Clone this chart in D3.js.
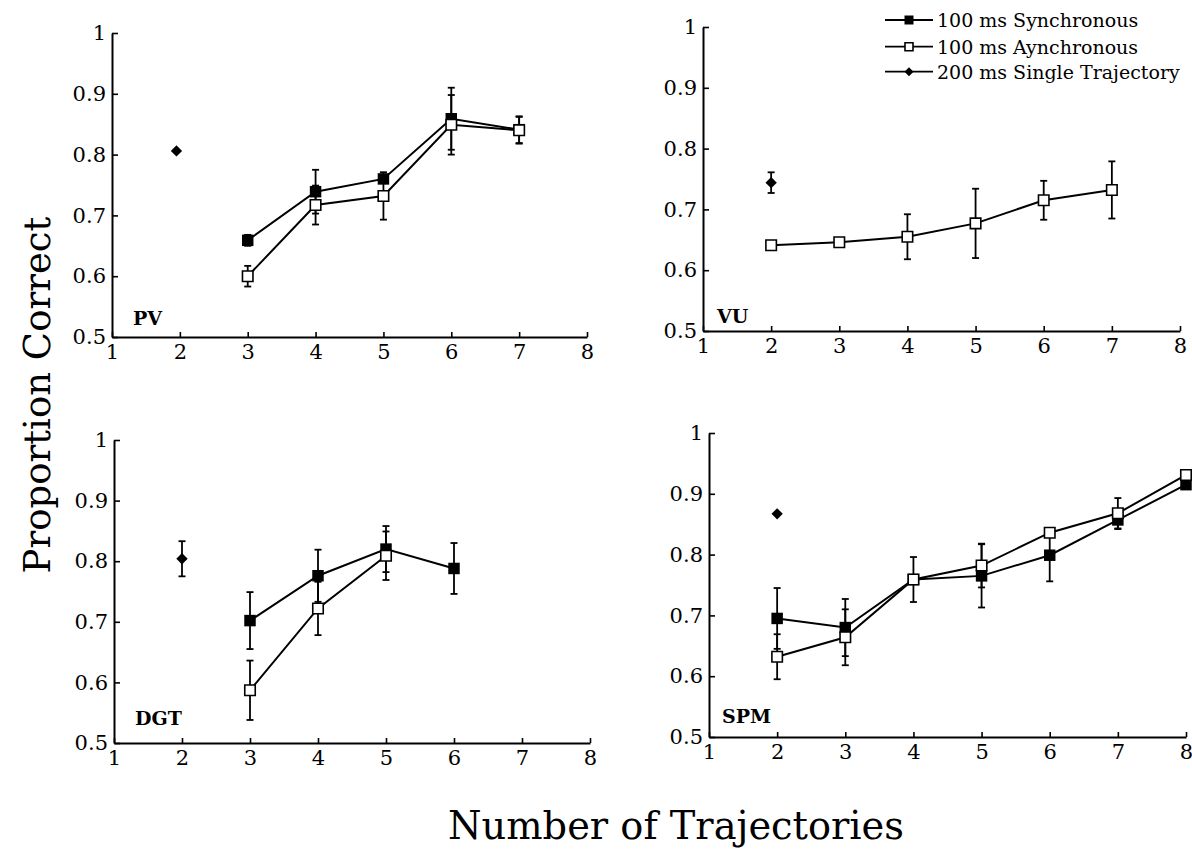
<!DOCTYPE html>
<html>
<head>
<meta charset="utf-8">
<script src="https://cdn.jsdelivr.net/npm/d3@7"></script>
<style>
  body { margin: 0; background: #fff; }
  svg { display: block; }
</style>
</head>
<body>
<svg width="1192" height="849"></svg>
<script>
// tick values shared by every panel
const xTicks = [1, 2, 3, 4, 5, 6, 7, 8];
const yTicks = [0.5, 0.6, 0.7, 0.8, 0.9, 1];

// [trajectories, proportion correct, error]
const pvSync = [[3, 0.659, 0.009], [4, 0.739, 0.036], [5, 0.760, 0.004], [6, 0.859, 0.051], [7, 0.841, 0.022]];
const pvAsync = [[3, 0.600, 0.017], [4, 0.717, 0.032], [5, 0.732, 0.039], [6, 0.849, 0.049], [7, 0.840, 0.022]];
const pvSingle = [[1.95, 0.806, 0]];

const vuSync = [];
const vuAsync = [[2, 0.641, 0], [3, 0.646, 0.005], [4, 0.655, 0.037], [5, 0.677, 0.057], [6, 0.715, 0.032], [7, 0.732, 0.047]];
const vuSingle = [[2, 0.744, 0.017]];

const dgtSync = [[3, 0.702, 0.047], [4, 0.776, 0.043], [5, 0.820, 0.038], [6, 0.788, 0.042]];
const dgtAsync = [[3, 0.587, 0.049], [4, 0.722, 0.044], [5, 0.809, 0.040]];
const dgtSingle = [[2, 0.804, 0.029]];

const spmSync = [[2, 0.695, 0.050], [3, 0.680, 0.047], [4, 0.759, 0], [5, 0.765, 0.052], [6, 0.799, 0.043], [7, 0.857, 0.015], [8, 0.915, 0]];
const spmAsync = [[2, 0.632, 0.037], [3, 0.664, 0.046], [4, 0.759, 0.037], [5, 0.782, 0.036], [6, 0.836, 0], [7, 0.868, 0.025], [8, 0.931, 0]];
const spmSingle = [[2, 0.867, 0]];

const legendLabels = ['100 ms Synchronous', '100 ms Aynchronous', '200 ms Single Trajectory'];

const font = '"DejaVu Serif", "Liberation Serif", serif';
const svg = d3.select('svg');

svg.append('rect').attr('width', 1192).attr('height', 849).attr('fill', '#fff');

// plot boxes
const panels = [
    { name: 'PV', sync: pvSync, async: pvAsync, single: pvSingle, box: [112, 587, 33, 337], label: [133, 325] },
    { name: 'VU', sync: vuSync, async: vuAsync, single: vuSingle, box: [703, 1180, 27, 331], label: [717, 323] },
    { name: 'DGT', sync: dgtSync, async: dgtAsync, single: dgtSingle, box: [114, 590, 440, 743], label: [135, 725] },
    { name: 'SPM', sync: spmSync, async: spmAsync, single: spmSingle, box: [709, 1186, 433, 737], label: [722, 723] }
];

const square = d3.symbol().type(d3.symbolSquare);

const drawMarker = (sel, kind, big) => {
    if (kind === 'single') {
        sel.attr('d', square.size(big ? 64 : 40)())
            .attr('fill', '#000')
            .attr('transform', sel.attr('transform') + ' rotate(45)');
    } else if (kind === 'sync') {
        sel.attr('d', square.size(big ? 132 : 81)()).attr('fill', '#000');
    } else {
        sel.attr('d', square.size(big ? 110 : 64)())
            .attr('fill', '#fff')
            .attr('stroke', '#000')
            .attr('stroke-width', 1.6);
    }
}

const renderPanel = (p) => {
    const [left, right, top, bottom] = p.box;
    const x = d3.scaleLinear().domain([1, 8]).range([left, right]);
    const y = d3.scaleLinear().domain([0.5, 1]).range([bottom, top]);
    const g = svg.append('g').attr('class', 'panel');

    // axes, ticks pointing inward
    const xAxis = g.append('g')
        .attr('transform', `translate(0,${bottom})`)
        .call(d3.axisBottom(x).tickValues(xTicks).tickSize(-5).tickSizeOuter(0).tickPadding(7).tickFormat(d3.format('d')));
    const yAxis = g.append('g')
        .attr('transform', `translate(${left},0)`)
        .call(d3.axisLeft(y).tickValues(yTicks).tickSize(-6).tickSizeOuter(0).tickPadding(6)
            .tickFormat(d => d === 1 ? '1' : d.toFixed(1)));
    [xAxis, yAxis].forEach(a => {
        a.attr('font-family', font).attr('font-size', 21);
        a.select('.domain').attr('stroke', '#000').attr('stroke-width', 2);
        a.selectAll('.tick line').attr('stroke', '#000').attr('stroke-width', 1.6);
        a.selectAll('.tick text')
            .attr('fill', '#000')
            .style('font-family', font)
            .style('font-size', '21px');
    })

    const line = d3.line().x(d => x(d[0])).y(d => y(d[1]));
    [p.sync, p.async].forEach(series => {
        if (series.length > 1) {
            g.append('path')
                .attr('d', line(series))
                .attr('fill', 'none')
                .attr('stroke', '#000')
                .attr('stroke-width', 2);
        }
    })

    // error bars
    const withErr = [].concat(p.sync, p.async, p.single).filter(d => d[2] > 0);
    const eb = g.selectAll('.err').data(withErr).enter().append('g').attr('class', 'err')
        .attr('stroke', '#000').attr('stroke-width', 1.8);
    eb.append('line')
        .attr('x1', d => x(d[0])).attr('x2', d => x(d[0]))
        .attr('y1', d => y(d[1] - d[2])).attr('y2', d => y(d[1] + d[2]));
    eb.append('line')
        .attr('x1', d => x(d[0]) - 3.5).attr('x2', d => x(d[0]) + 3.5)
        .attr('y1', d => y(d[1] + d[2])).attr('y2', d => y(d[1] + d[2]));
    eb.append('line')
        .attr('x1', d => x(d[0]) - 3.5).attr('x2', d => x(d[0]) + 3.5)
        .attr('y1', d => y(d[1] - d[2])).attr('y2', d => y(d[1] - d[2]));

    // markers: synchronous first, asynchronous drawn on top
    [['sync', p.sync], ['async', p.async], ['single', p.single]].forEach(([kind, series]) => {
        g.selectAll('.m-' + kind).data(series).enter().append('path')
            .attr('class', 'm-' + kind)
            .each(function(d) {
                const m = d3.select(this).attr('transform', `translate(${x(d[0])},${y(d[1])})`);
                drawMarker(m, kind, true);
            })
    })

    g.append('text')
        .attr('x', p.label[0])
        .attr('y', p.label[1])
        .attr('font-family', font)
        .attr('font-weight', 'bold')
        .attr('font-size', 19)
        .text(p.name);
}

panels.forEach(renderPanel);

// legend in the top right corner
const legend = svg.append('g').attr('class', 'legend');
const legendKinds = ['sync', 'async', 'single'];
const legendRows = [20, 46.7, 71.7];
legendKinds.forEach((kind, i) => {
    const row = legend.append('g').attr('transform', `translate(0,${legendRows[i]})`);
    row.append('line')
        .attr('x1', 885).attr('x2', 933)
        .attr('stroke', '#000').attr('stroke-width', 1.8);
    const m = row.append('path').attr('transform', 'translate(909,0)');
    drawMarker(m, kind, false);
    row.append('text')
        .attr('x', 937)
        .attr('y', 7)
        .attr('font-family', font)
        .attr('font-size', 19)
        .text(legendLabels[i]);
})

// axis titles, sized so their length matches the original
const fitWidth = (sel, target) => {
    const w = sel.node().getComputedTextLength();
    sel.attr('font-size', 40 * target / w);
}

const yTitle = svg.append('text')
    .attr('transform', 'translate(50,395) rotate(-90)')
    .attr('text-anchor', 'middle')
    .attr('font-family', font)
    .attr('font-size', 40)
    .text('Proportion Correct');
fitWidth(yTitle, 357);

const xTitle = svg.append('text')
    .attr('x', 676)
    .attr('y', 839)
    .attr('text-anchor', 'middle')
    .attr('font-family', font)
    .attr('font-size', 40)
    .text('Number of Trajectories');
fitWidth(xTitle, 456);
</script>
</body>
</html>
